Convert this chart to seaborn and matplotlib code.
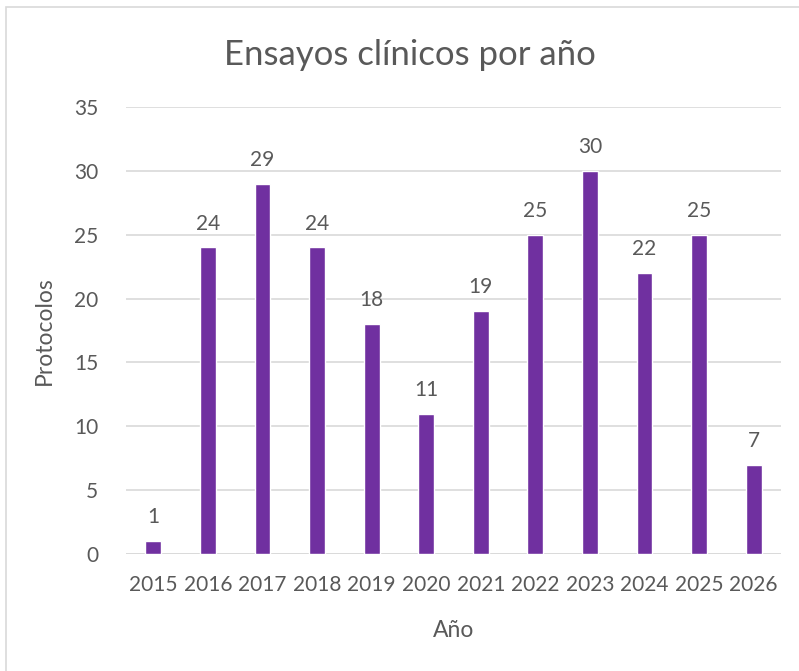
import matplotlib
matplotlib.use("Agg")
import matplotlib.pyplot as plt
import seaborn as sns
import pandas as pd
from matplotlib.patches import Rectangle

years = ["2015", "2016", "2017", "2018", "2019", "2020", "2021", "2022", "2023", "2024", "2025", "2026"]
protocolos = [1, 24, 29, 24, 18, 11, 19, 25, 30, 22, 25, 7]
yticks = [0, 5, 10, 15, 20, 25, 30, 35]

sns.set_theme(style="white")
plt.rcParams['font.family'] = ['Lato', 'DejaVu Sans']

TXT = "#595959"
df = pd.DataFrame({"Año": years, "Protocolos": protocolos})

W, H = 799, 671
fig = plt.figure(figsize=(W / 100, H / 100), dpi=100)
ax = fig.add_axes([126 / W, 117 / H, (781 - 126) / W, (554 - 107) / H])

sns.barplot(data=df, x="Año", y="Protocolos", color="#7030A0", width=0.29,
            saturation=1, ax=ax, zorder=3)

ax.set_ylim(0, 35)
ax.set_xlim(-0.5, len(years) - 0.5)
ax.set_yticks(yticks)
ax.yaxis.grid(True, color="#D9D9D9", linewidth=1.2, zorder=0)
ax.xaxis.grid(False)
for s in ax.spines.values():
    s.set_visible(False)
ax.axhline(0, color="#D9D9D9", linewidth=1.2, zorder=2)
ax.tick_params(axis="both", length=0, labelsize=15, colors=TXT)
ax.tick_params(axis="x", pad=15)
ax.tick_params(axis="y", pad=20)

for c in ax.containers:
    ax.bar_label(c, labels=[str(v) for v in protocolos], padding=10,
                 fontsize=15, color=TXT)

ax.set_xlabel("Año", fontsize=16.5, color=TXT, labelpad=18)
ax.set_ylabel("Protocolos", fontsize=16.5, color=TXT, labelpad=14)
fig.text(410 / W, 1 - 55 / H, "Ensayos clínicos por año", ha="center", va="center",
         fontsize=25, color=TXT)

fig.patches.append(Rectangle((5.5 / W, -0.1), 1.1, 1.1 - 7 / H,
                             transform=fig.transFigure, fill=False,
                             edgecolor="#D9D9D9", linewidth=1.2))

fig.savefig("out.png", dpi=100)
